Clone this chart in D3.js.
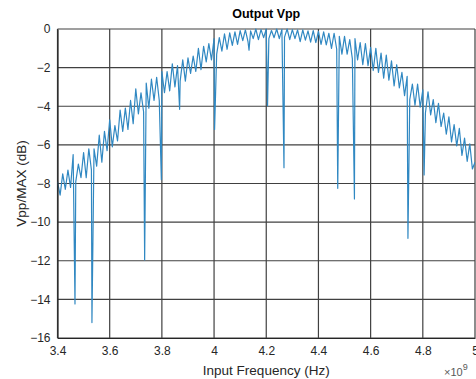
<!DOCTYPE html>
<html>
<head>
<meta charset="utf-8">
<script src="https://cdn.jsdelivr.net/npm/d3@7"></script>
<style>
  html, body { margin: 0; padding: 0; background: #fff; }
  svg { display: block; font-family: "Liberation Sans", Arial, sans-serif; }
</style>
</head>
<body>
<svg id="chart" width="476" height="379"></svg>
<script>
// Frequency sweep start/step (GHz) and measured output level (dB) per step
const sweepStartGHz = 3.40;
const sweepStepGHz = 0.01;
const levelDb = [
  -7.9, -8.6, -7.5, -8.3, -7.3, -8.2, -6.5, -7.9, -7.0, -7.7,
  -6.4, -7.7, -6.2, -7.3, -6.2, -7.1, -5.5, -6.9, -5.3, -6.3,
  -4.7, -6.1, -5.0, -5.8, -4.2, -5.3, -4.1, -5.2, -3.7, -4.9,
  -3.1, -4.4, -3.3, -4.3, -2.8, -4.1, -2.6, -3.7, -2.5, -3.7,
  -2.2, -3.3, -2.2, -3.2, -1.8, -3.0, -1.9, -2.7, -1.6, -2.7,
  -1.5, -2.3, -1.4, -2.2, -1.0, -2.1, -0.9, -1.7, -0.75, -1.6,
  -0.5, -1.3, -0.45, -1.15, -0.25, -1.05, -0.2, -0.85, -0.15, -0.8,
  -0.08, -0.6, -0.05, -0.65, -0.1, -0.5, 0.0, -0.55, -0.03, -0.45,
  0.0, -0.5, -0.08, -0.45, 0.0, -0.5, -0.02, -0.42, 0.0, -0.55,
  -0.03, -0.5, -0.05, -0.65, -0.04, -0.58, -0.1, -0.68, -0.08, -0.7,
  -0.12, -0.8, -0.15, -0.82, -0.22, -1.0, -0.22, -1.05, -0.38, -1.3,
  -0.38, -1.3, -0.55, -1.55, -0.5, -1.6, -0.7, -1.85, -0.75, -1.9,
  -0.95, -2.15, -1.0, -2.25, -1.25, -2.55, -1.35, -2.65, -1.65, -2.95,
  -1.85, -3.05, -2.25, -3.45, -2.45, -3.65, -2.85, -3.95, -2.85, -4.05,
  -3.15, -4.35, -3.25, -4.45, -3.65, -4.85, -3.85, -5.05, -4.35, -5.45,
  -4.55, -5.85, -4.95, -6.05, -5.15, -6.55, -5.65, -6.85, -5.95, -7.25,
  -6.9
];

// Isolated dropouts: frequency (GHz) and level (dB)
const dropFreqGHz = [3.467, 3.532, 3.734, 3.798, 3.868, 4.002, 4.134, 4.205, 4.268, 4.474, 4.538, 4.743, 4.805];
const dropLevelDb = [-14.24, -15.2, -11.96, -7.8, -4.16, -5.2, -1.1, -3.97, -7.18, -8.25, -8.8, -10.84, -7.56];

const xTicks = [3.4, 3.6, 3.8, 4.0, 4.2, 4.4, 4.6, 4.8, 5.0];
const yTicks = [0, -2, -4, -6, -8, -10, -12, -14, -16];

const svg = d3.select("#chart");
const plotLeft = 57.5, plotRight = 475, plotTop = 29, plotBottom = 338;

const x = d3.scaleLinear().domain([3.4, 5.0]).range([plotLeft, plotRight]);
const y = d3.scaleLinear().domain([-16, 0]).range([plotBottom, plotTop]);

// Grid
const grid = svg.append("g").attr("stroke", "#404040").attr("stroke-width", 1.2);
grid.selectAll("line.v").data(xTicks).join("line").attr("class", "v")
  .attr("x1", d => x(d)).attr("x2", d => x(d)).attr("y1", plotTop).attr("y2", plotBottom);
grid.selectAll("line.h").data(yTicks).join("line").attr("class", "h")
  .attr("x1", plotLeft).attr("x2", plotRight).attr("y1", d => y(d)).attr("y2", d => y(d));

// Series points: sweep samples plus dropouts, sorted by frequency
const pts = levelDb.map((v, i) => ({ f: +(sweepStartGHz + i * sweepStepGHz).toFixed(3), v }));
dropFreqGHz.forEach((f, i) => pts.push({ f, v: dropLevelDb[i] }));
pts.sort((a, b) => a.f - b.f);

svg.append("clipPath").attr("id", "plotclip")
  .append("rect").attr("x", plotLeft).attr("y", plotTop - 2)
  .attr("width", plotRight - plotLeft).attr("height", plotBottom - plotTop + 2);

svg.append("path")
  .datum(pts)
  .attr("clip-path", "url(#plotclip)")
  .attr("fill", "none")
  .attr("stroke", "#3088c2")
  .attr("stroke-width", 1.2)
  .attr("stroke-linejoin", "round")
  .attr("d", d3.line().x(d => x(d.f)).y(d => y(d.v)));

// Axes
const xAxis = d3.axisBottom(x).tickValues(xTicks).tickSize(0).tickPadding(7)
  .tickFormat(d => d3.format("~g")(d));
const yAxis = d3.axisLeft(y).tickValues(yTicks).tickSize(0).tickPadding(7)
  .tickFormat(d => d3.format("~g")(d));

const gx = svg.append("g").attr("transform", `translate(0,${plotBottom})`).call(xAxis);
const gy = svg.append("g").attr("transform", `translate(${plotLeft},0)`).call(yAxis);
[gx, gy].forEach(g => {
  g.select(".domain").attr("stroke", "#262626").attr("stroke-width", 1.2);
  g.selectAll("text").attr("fill", "#262626").attr("font-size", 12)
    .attr("font-family", "'Liberation Sans', Arial, sans-serif");
});
gx.selectAll("text").attr("dy", "0.85em");

// Title and labels
svg.append("text").attr("x", (plotLeft + plotRight) / 2).attr("y", 18)
  .attr("text-anchor", "middle").attr("font-weight", "bold").attr("font-size", 12.5)
  .attr("fill", "#000").text("Output Vpp");

svg.append("text").attr("x", (plotLeft + plotRight) / 2).attr("y", 375)
  .attr("text-anchor", "middle").attr("font-size", 13.5).attr("fill", "#262626")
  .text("Input Frequency (Hz)");

svg.append("text").attr("transform", `translate(26,${(plotTop + plotBottom) / 2}) rotate(-90)`)
  .attr("text-anchor", "middle").attr("font-size", 13.5).attr("fill", "#262626")
  .text("Vpp/MAX (dB)");

const exp = svg.append("text").attr("x", 444).attr("y", 376)
  .attr("font-size", 11).attr("fill", "#595959");
exp.append("tspan").text("×10");
exp.append("tspan").attr("dy", -6).attr("font-size", 9).text("9");
</script>
</body>
</html>
